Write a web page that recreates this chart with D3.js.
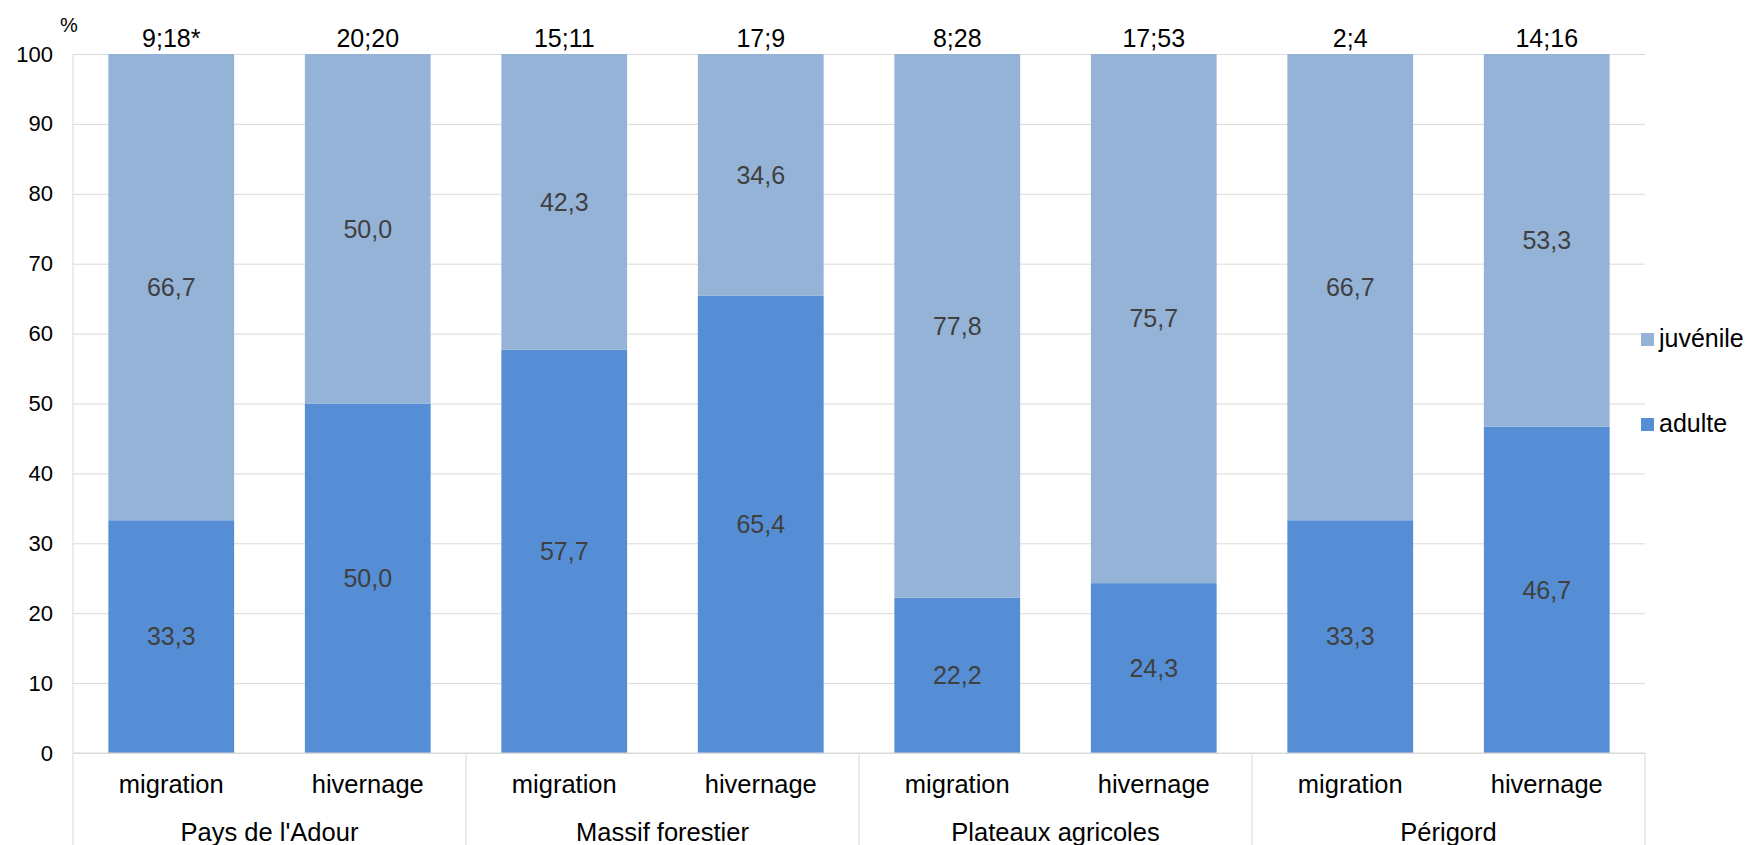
<!DOCTYPE html>
<html>
<head>
<meta charset="utf-8">
<script src="https://cdn.jsdelivr.net/npm/d3@7"></script>
<style>
  html, body { margin: 0; padding: 0; background: #fff; }
  svg { display: block; font-family: "Liberation Sans", Arial, sans-serif; }
</style>
</head>
<body>
<svg id="chart" width="1753" height="845"></svg>
<script>
// ---- data ----
const regions = ["Pays de l'Adour", "Massif forestier", "Plateaux agricoles", "Périgord"];
const periods = ["migration", "hivernage"];
const adulte = [33.3, 50.0, 57.7, 65.4, 22.2, 24.3, 33.3, 46.7];
const juvenile = [66.7, 50.0, 42.3, 34.6, 77.8, 75.7, 66.7, 53.3];
const sampleSizes = ["9;18*", "20;20", "15;11", "17;9", "8;28", "17;53", "2;4", "14;16"];
const yTicks = [0, 10, 20, 30, 40, 50, 60, 70, 80, 90, 100];
const seriesKeys = ["adulte", "juvenile"];

// ---- layout ----
const W = 1753, H = 845;
const mLeft = 73, mRight = 1645, mTop = 54, mBottom = 753;
const colors = { adulte: "#558ED5", juvenile: "#95B3D7" };
const grid = "#d9d9d9";

const rows = [];
regions.forEach((r, i) => periods.forEach((p, j) => {
  const k = i * periods.length + j;
  rows.push({ key: k, region: r, period: p, adulte: adulte[k], juvenile: juvenile[k], n: sampleSizes[k] });
}));

const svg = d3.select("#chart");

const x = d3.scaleBand().domain(rows.map(d => d.key)).range([mLeft, mRight]).paddingInner(0.36).paddingOuter(0.18);
const xr = d3.scaleBand().domain(regions).range([mLeft, mRight]);
const y = d3.scaleLinear().domain([0, 100]).range([mBottom, mTop]);

const fmt = d3.formatLocale({ decimal: ",", thousands: " ", grouping: [3], currency: ["", "€"] }).format(".1f");

// gridlines + y axis
const yAxis = d3.axisLeft(y).tickValues(yTicks).tickSize(-(mRight - mLeft)).tickPadding(20).tickFormat(d3.format("d"));
const gy = svg.append("g").attr("transform", `translate(${mLeft},0)`).call(yAxis);
gy.select(".domain").remove();
gy.selectAll(".tick line").attr("stroke", grid).attr("stroke-width", 1);
gy.selectAll(".tick text").attr("fill", "#000").attr("font-size", 22).attr("font-family", "Liberation Sans, Arial, sans-serif");

// vertical axis line
svg.append("line").attr("x1", mLeft).attr("x2", mLeft).attr("y1", mTop).attr("y2", H)
  .attr("stroke", grid).attr("stroke-width", 1);

// stacked bars
const stack = d3.stack().keys(seriesKeys)(rows);
const layers = svg.append("g").selectAll("g").data(stack).join("g")
  .attr("fill", d => colors[d.key]);
layers.selectAll("rect").data(d => d).join("rect")
  .attr("x", d => x(d.data.key))
  .attr("width", x.bandwidth())
  .attr("y", d => y(d[1]))
  .attr("height", d => y(d[0]) - y(d[1]));

// value labels
stack.forEach(layer => {
  svg.append("g").selectAll("text").data(layer).join("text")
    .attr("x", d => x(d.data.key) + x.bandwidth() / 2)
    .attr("y", d => y((d[0] + d[1]) / 2))
    .attr("dy", "0.35em")
    .attr("text-anchor", "middle")
    .attr("font-size", 25)
    .attr("fill", "#404040")
    .text(d => fmt(d[1] - d[0]));
});

// sample size labels on top
svg.append("g").selectAll("text").data(rows).join("text")
  .attr("x", d => x(d.key) + x.bandwidth() / 2)
  .attr("y", y(100) - 7)
  .attr("text-anchor", "middle")
  .attr("font-size", 25)
  .attr("fill", "#000")
  .text(d => d.n);

// % label
svg.append("text").attr("x", mLeft - 4).attr("y", 32).attr("text-anchor", "middle")
  .attr("font-size", 20).attr("fill", "#000").text("%");

// bottom multi-level axis
svg.append("line").attr("x1", mLeft).attr("x2", mRight).attr("y1", mBottom).attr("y2", mBottom)
  .attr("stroke", grid).attr("stroke-width", 1);
const bounds = regions.map(r => xr(r)).concat([mRight]);
svg.append("g").selectAll("line").data(bounds.slice(1)).join("line")
  .attr("x1", d => d).attr("x2", d => d).attr("y1", mBottom).attr("y2", H)
  .attr("stroke", grid).attr("stroke-width", 1);

svg.append("g").selectAll("text").data(rows).join("text")
  .attr("x", d => x(d.key) + x.bandwidth() / 2)
  .attr("y", mBottom + 40)
  .attr("text-anchor", "middle")
  .attr("font-size", 25.5)
  .attr("fill", "#000")
  .text(d => d.period);

svg.append("g").selectAll("text").data(regions).join("text")
  .attr("x", d => xr(d) + xr.bandwidth() / 2)
  .attr("y", mBottom + 88)
  .attr("text-anchor", "middle")
  .attr("font-size", 25.5)
  .attr("fill", "#000")
  .text(d => d);

// legend
const legendItems = [
  { key: "juvenile", name: "juvénile" },
  { key: "adulte", name: "adulte" }
];
const lg = svg.append("g").selectAll("g").data(legendItems).join("g")
  .attr("transform", (d, i) => `translate(1641, ${333 + i * 85})`);
lg.append("rect").attr("width", 13).attr("height", 13).attr("fill", d => colors[d.key]);
lg.append("text").attr("x", 18).attr("y", 14).attr("font-size", 25).attr("fill", "#000").text(d => d.name);
</script>
</body>
</html>
